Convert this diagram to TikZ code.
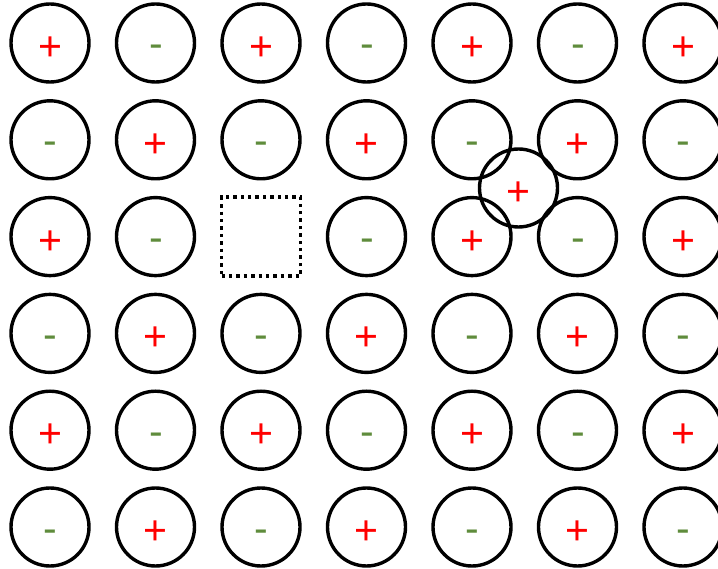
\documentclass[tikz,border=0pt]{standalone}
\usepackage{fontspec}
\setmainfont{Liberation Sans}
\definecolor{pluscol}{RGB}{255,0,0}
\definecolor{minuscol}{RGB}{95,140,60}
\tikzset{
  ion/.style={circle, draw=black, line width=3.4pt, inner sep=0pt, minimum size=78pt},
  possign/.style={text=pluscol, font=\fontsize{41}{41}\selectfont, inner sep=0pt, anchor=base},
  negsign/.style={text=minuscol, font=\fontsize{41}{41}\selectfont, inner sep=0pt, anchor=base},
  vacancy/.style={draw=black, line width=3.4pt, dash pattern=on 3.4pt off 4pt, inner sep=0pt, minimum size=79pt}
}
\begin{document}
\begin{tikzpicture}[x=1pt,y=-1pt]
\useasboundingbox (0,0) rectangle (718,569);
\foreach \r in {0,...,5}{
  \foreach \c in {0,...,6}{
    \pgfmathtruncatemacro{\myparity}{mod(\r+\c,2)}
    \pgfmathsetmacro{\xx}{50+105.5*\c}
    \pgfmathsetmacro{\yy}{43+96.8*\r}
    \pgfmathtruncatemacro{\isvac}{(\r==2)&&(\c==2)}
    \ifnum\isvac=1
      \node[vacancy] (vac) at (\xx,\yy) {};
    \else
      \node[ion] (ion-\r-\c) at (\xx,\yy) {};
      \ifnum\myparity=0
        \node[possign] (sign-\r-\c) at (\xx,\yy+17.5) {+};
      \else
        \node[negsign] (sign-\r-\c) at (\xx+0.5,\yy+15) {-};
      \fi
    \fi
  }
}
\node[ion] (inter) at (518.5,188) {};
\node[possign] (intersign) at (518.5,188+17.5) {+};
\end{tikzpicture}
\end{document}
